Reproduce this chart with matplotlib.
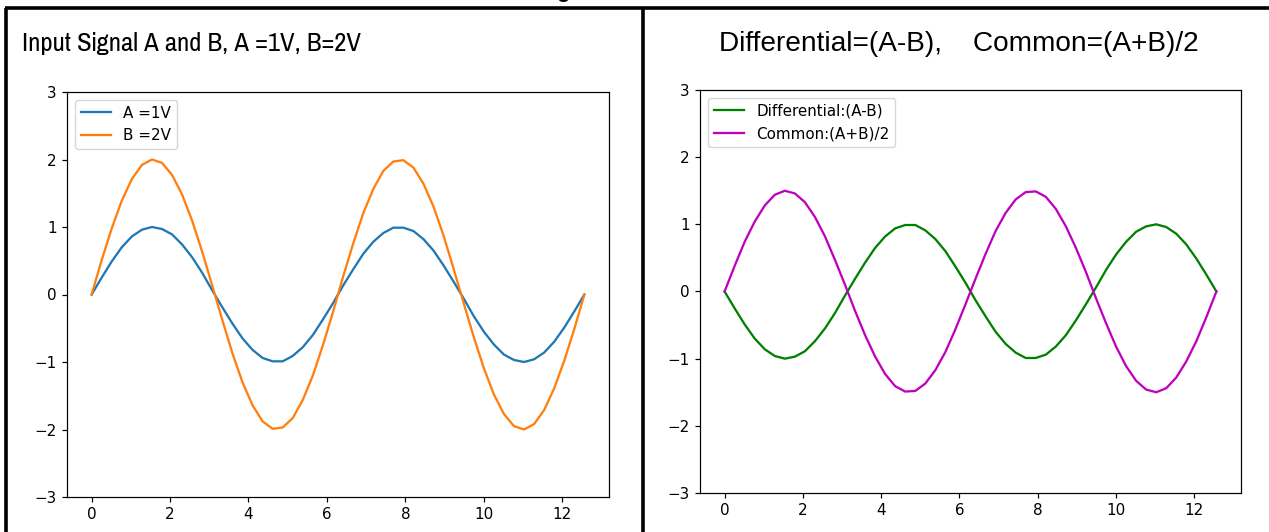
import matplotlib
matplotlib.use("Agg")
import matplotlib.pyplot as plt
from matplotlib.lines import Line2D

# ---- data ----
x = [0.0, 0.256, 0.513, 0.769, 1.026, 1.282, 1.539, 1.795, 2.052, 2.308,
     2.565, 2.821, 3.077, 3.334, 3.590, 3.847, 4.103, 4.360, 4.616, 4.873,
     5.129, 5.386, 5.642, 5.899, 6.155, 6.411, 6.668, 6.924, 7.181, 7.437,
     7.694, 7.950, 8.207, 8.463, 8.720, 8.976, 9.232, 9.489, 9.745, 10.002,
     10.258, 10.515, 10.771, 11.028, 11.284, 11.541, 11.797, 12.053, 12.310, 12.566]

sig_a = [0.0, 0.25, 0.49, 0.70, 0.86, 0.96, 1.00, 0.97, 0.89, 0.74,
         0.55, 0.32, 0.06, -0.19, -0.43, -0.65, -0.82, -0.94, -0.99, -0.99,
         -0.91, -0.78, -0.60, -0.37, -0.13, 0.13, 0.37, 0.60, 0.78, 0.91,
         0.99, 0.99, 0.94, 0.82, 0.65, 0.43, 0.19, -0.06, -0.32, -0.55,
         -0.74, -0.89, -0.97, -1.00, -0.96, -0.86, -0.70, -0.49, -0.25, 0.0]

sig_b = [0.0, 0.51, 0.98, 1.39, 1.71, 1.92, 2.00, 1.95, 1.77, 1.48,
         1.09, 0.63, 0.13, -0.38, -0.87, -1.30, -1.64, -1.88, -1.99, -1.97,
         -1.83, -1.56, -1.20, -0.75, -0.26, 0.26, 0.75, 1.20, 1.56, 1.83,
         1.97, 1.99, 1.88, 1.64, 1.30, 0.87, 0.38, -0.13, -0.63, -1.09,
         -1.48, -1.77, -1.95, -2.00, -1.92, -1.71, -1.39, -0.98, -0.51, 0.0]

diff = [0.0, -0.25, -0.49, -0.70, -0.86, -0.96, -1.00, -0.97, -0.89, -0.74,
        -0.55, -0.32, -0.06, 0.19, 0.43, 0.65, 0.82, 0.94, 0.99, 0.99,
        0.91, 0.78, 0.60, 0.37, 0.13, -0.13, -0.37, -0.60, -0.78, -0.91,
        -0.99, -0.99, -0.94, -0.82, -0.65, -0.43, -0.19, 0.06, 0.32, 0.55,
        0.74, 0.89, 0.97, 1.00, 0.96, 0.86, 0.70, 0.49, 0.25, 0.0]

common = [0.0, 0.38, 0.74, 1.04, 1.28, 1.44, 1.50, 1.46, 1.33, 1.11,
          0.82, 0.47, 0.10, -0.29, -0.65, -0.97, -1.23, -1.41, -1.49, -1.48,
          -1.37, -1.17, -0.90, -0.56, -0.19, 0.19, 0.56, 0.90, 1.17, 1.37,
          1.48, 1.49, 1.41, 1.23, 0.97, 0.65, 0.29, -0.10, -0.47, -0.82,
          -1.11, -1.33, -1.46, -1.50, -1.44, -1.28, -1.04, -0.74, -0.38, 0.0]

left_title = "Input Signal A and B, A =1V, B=2V"
right_title = "Differential=(A-B),    Common=(A+B)/2"
left_labels = ["A =1V", "B =2V"]
right_labels = ["Differential:(A-B)", "Common:(A+B)/2"]

# ---- figure ----
W, H = 1269, 532
fig = plt.figure(figsize=(W / 100, H / 100), dpi=100)
fig.patch.set_facecolor("white")

S = 1.09  # scale of embedded plots
plt.rcParams.update({
    "font.size": 10 * S,
    "axes.linewidth": 0.8 * S,
    "xtick.major.size": 3.5 * S,
    "ytick.major.size": 3.5 * S,
    "xtick.major.width": 0.8 * S,
    "ytick.major.width": 0.8 * S,
    "legend.fontsize": 10 * S,
})


def px_rect(l, t, r, b):
    return [l / W, 1 - b / H, (r - l) / W, (b - t) / H]


# table borders
border = dict(color="black", lw=2.6, solid_capstyle="butt")
fig.add_artist(Line2D([5 / W, 1.0], [1 - 8 / H, 1 - 8 / H], transform=fig.transFigure, **border))
fig.add_artist(Line2D([6 / W, 6 / W], [0, 1 - 8 / H], transform=fig.transFigure, **border))
fig.add_artist(Line2D([642.5 / W, 642.5 / W], [0, 1 - 8 / H], transform=fig.transFigure, **border))

# cut-off caption fragment at top
fig.text(563 / W, 1 + 3 / H, "g", fontsize=16, fontweight="bold",
         family="Liberation Sans", ha="center", va="baseline")

# cell titles
fig.text(22 / W, 1 - 44 / H, left_title, fontsize=20.9,
         family=["Pragati Narrow", "Roboto Condensed", "Archivo Narrow", "Liberation Sans"],
         ha="left", va="center")
fig.text(719 / W, 1 - 44 / H, right_title, fontsize=20.2,
         family=["Liberation Sans", "Arimo"],
         ha="left", va="center")

# left plot
ax1 = fig.add_axes(px_rect(67, 92, 609, 497))
ax1.plot(x, sig_a, color="C0", lw=1.5 * S, label=left_labels[0])
ax1.plot(x, sig_b, color="C1", lw=1.5 * S, label=left_labels[1])
ax1.set_ylim(-3, 3)
ax1.set_yticks([-3, -2, -1, 0, 1, 2, 3])
ax1.set_xticks([0, 2, 4, 6, 8, 10, 12])
ax1.legend(loc="upper left")

# right plot
ax2 = fig.add_axes(px_rect(700, 90, 1241, 493))
ax2.plot(x, diff, color="g", lw=1.5 * S, label=right_labels[0])
ax2.plot(x, common, color="m", lw=1.5 * S, label=right_labels[1])
ax2.set_ylim(-3, 3)
ax2.set_yticks([-3, -2, -1, 0, 1, 2, 3])
ax2.set_xticks([0, 2, 4, 6, 8, 10, 12])
ax2.legend(loc="upper left")

fig.savefig("out.png", dpi=100)
